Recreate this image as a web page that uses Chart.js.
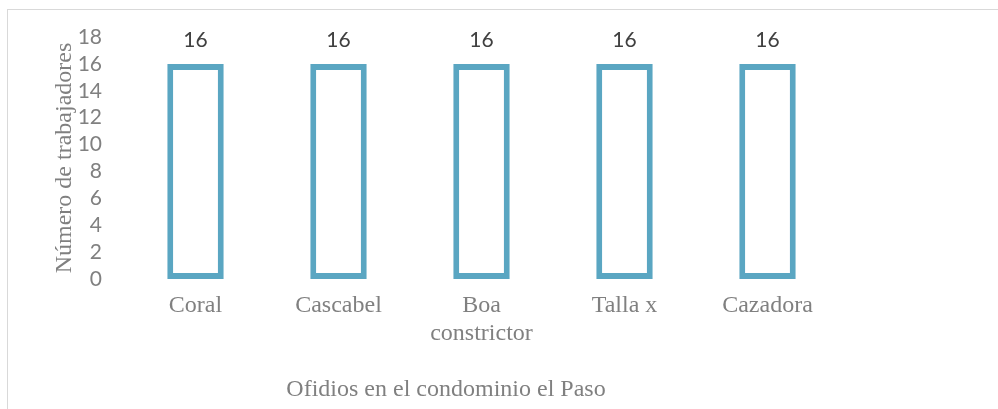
<!DOCTYPE html>
<html>
<head>
<meta charset="utf-8">
<script src="https://cdn.jsdelivr.net/npm/chart.js@4/dist/chart.umd.min.js"></script>
<style>
  html, body { margin: 0; padding: 0; background: #fff; }
  #wrap { position: relative; width: 998px; height: 409px; overflow: hidden; }
  #frame { position: absolute; left: 7px; top: 9px; width: 1200px; height: 600px;
           border-top: 1px solid #d9d9d9; border-left: 1px solid #d9d9d9; }
  canvas { position: absolute; left: 0; top: 0; }
</style>
</head>
<body>
<div id="wrap">
  <div id="frame"></div>
  <canvas id="chart" width="998" height="409"></canvas>
</div>
<script>
const categories = ["Coral", "Cascabel", ["Boa", "constrictor"], "Talla x", "Cazadora"];
const workers = [16, 16, 16, 16, 16];
const yTitle = "Número de trabajadores";
const xTitle = "Ofidios en el condominio el Paso";

const serif = "'Liberation Serif', 'Times New Roman', serif";
const sans = "Lato, 'Open Sans', sans-serif";

// value labels above each bar
const barLabels = {
  id: "barLabels",
  afterDatasetsDraw(chart) {
    const ctx = chart.ctx;
    const meta = chart.getDatasetMeta(0);
    ctx.save();
    ctx.font = "21px " + sans;
    ctx.fillStyle = "#404040";
    ctx.textAlign = "center";
    ctx.textBaseline = "middle";
    meta.data.forEach((bar, i) => {
      ctx.fillText(workers[i], bar.x, bar.y - 24);
    });
    ctx.restore();
  }
};

// category axis title, centred under the whole chart block
const xAxisTitle = {
  id: "xAxisTitle",
  afterDraw(chart) {
    const ctx = chart.ctx;
    ctx.save();
    ctx.font = "24px " + serif;
    ctx.fillStyle = "#808080";
    ctx.textAlign = "center";
    ctx.textBaseline = "middle";
    ctx.fillText(xTitle, 446, 390);
    ctx.restore();
  }
};

new Chart(document.getElementById("chart").getContext("2d"), {
  type: "bar",
  data: {
    labels: categories,
    datasets: [{
      data: workers,
      backgroundColor: "#ffffff",
      borderColor: "#5aa6c2",
      borderWidth: 6,
      borderSkipped: false,
      barPercentage: 0.395,
      categoryPercentage: 1
    }]
  },
  options: {
    responsive: false,
    animation: false,
    layout: { padding: { left: 50, right: 159, top: 37, bottom: 0 } },
    plugins: { legend: { display: false }, tooltip: { enabled: false } },
    scales: {
      x: {
        grid: { display: false, drawTicks: false },
        border: { display: false },
        ticks: {
          color: "#808080",
          font: { family: serif, size: 24, lineHeight: 1.17 },
          padding: 13,
          maxRotation: 0,
          autoSkip: false
        },
        afterFit(scale) { scale.height = 130; }
      },
      y: {
        min: 0,
        max: 18,
        grid: { display: false, drawTicks: false },
        border: { display: false },
        ticks: {
          stepSize: 2,
          autoSkip: false,
          color: "#808080",
          font: { family: sans, size: 21 },
          padding: 22
        },
        title: {
          display: true,
          text: yTitle,
          color: "#808080",
          font: { family: serif, size: 24 },
          padding: { top: 0, bottom: 0 }
        },
        afterFit(scale) { scale.width = 74; }
      }
    }
  },
  plugins: [barLabels, xAxisTitle]
});
</script>
</body>
</html>
